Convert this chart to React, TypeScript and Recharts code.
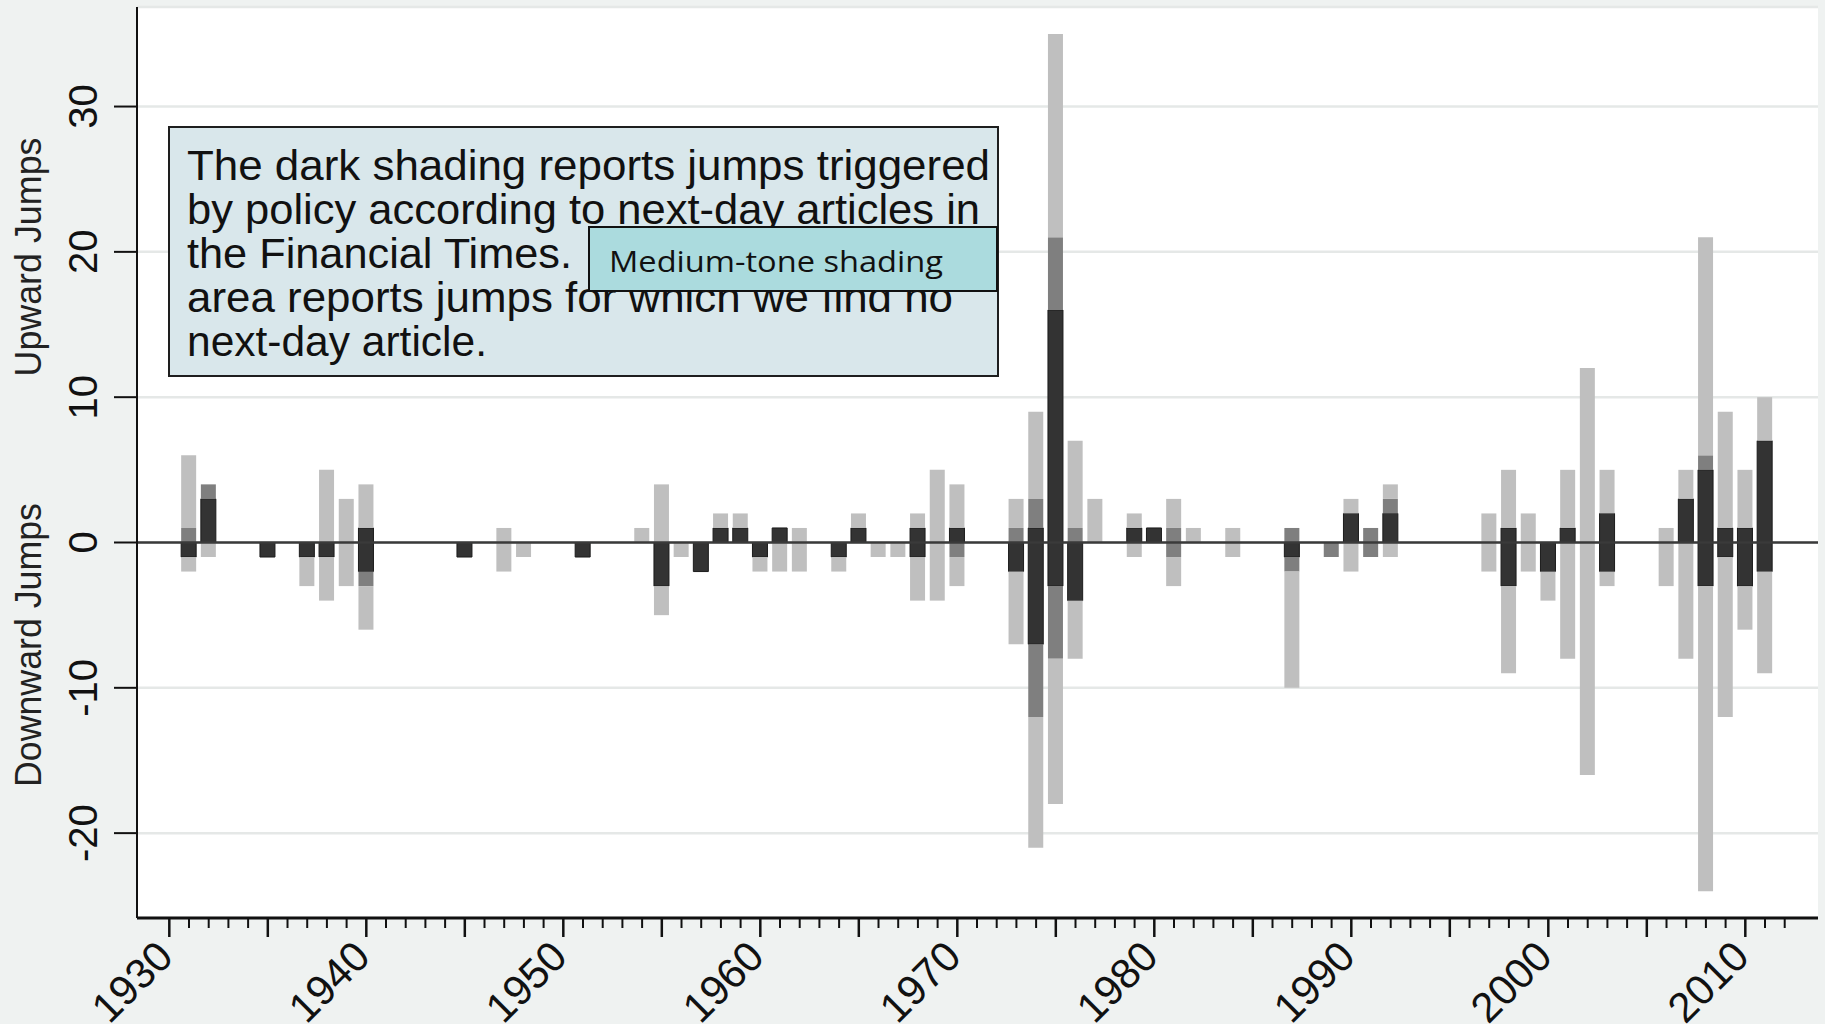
import React from 'react';
import { BarChart, Bar, XAxis, YAxis, CartesianGrid, ReferenceLine } from 'recharts';

// ---- data (segment sizes of each shade; downward jumps negative) ----
const years = [1931, 1932, 1935, 1937, 1938, 1939, 1940, 1945, 1947, 1948, 1951, 1954, 1955, 1956, 1957, 1958, 1959, 1960, 1961, 1962, 1964, 1965, 1966, 1967, 1968, 1969, 1970, 1973, 1974, 1975, 1976, 1977, 1979, 1980, 1981, 1982, 1984, 1987, 1989, 1990, 1991, 1992, 1997, 1998, 1999, 2000, 2001, 2002, 2003, 2006, 2007, 2008, 2009, 2010, 2011];
const darkUp = [0, 3, 0, 0, 0, 0, 1, 0, 0, 0, 0, 0, 0, 0, 0, 1, 1, 0, 1, 0, 0, 1, 0, 0, 1, 0, 1, 0, 1, 16, 0, 0, 1, 1, 0, 0, 0, 0, 0, 2, 0, 2, 0, 1, 0, 0, 1, 0, 2, 0, 3, 5, 1, 1, 7];
const mediumUp = [1, 1, 0, 0, 0, 0, 0, 0, 0, 0, 0, 0, 0, 0, 0, 0, 0, 0, 0, 0, 0, 0, 0, 0, 0, 0, 0, 1, 2, 5, 1, 0, 0, 0, 1, 0, 0, 1, 0, 0, 1, 1, 0, 0, 0, 0, 0, 0, 0, 0, 0, 1, 0, 0, 0];
const lightUp = [5, 0, 0, 0, 5, 3, 3, 0, 1, 0, 0, 1, 4, 0, 0, 1, 1, 0, 0, 1, 0, 1, 0, 0, 1, 5, 3, 2, 6, 14, 6, 3, 1, 0, 2, 1, 1, 0, 0, 1, 0, 1, 2, 4, 2, 0, 4, 12, 3, 1, 2, 15, 8, 4, 3];
const darkDown = [-1, 0, -1, -1, -1, 0, -2, -1, 0, 0, -1, 0, -3, 0, -2, 0, 0, -1, 0, 0, -1, 0, 0, 0, -1, 0, 0, -2, -7, -3, -4, 0, 0, 0, 0, 0, 0, -1, 0, 0, 0, 0, 0, -3, 0, -2, 0, 0, -2, 0, 0, -3, -1, -3, -2];
const mediumDown = [0, 0, 0, 0, 0, 0, -1, 0, 0, 0, 0, 0, 0, 0, 0, 0, 0, 0, 0, 0, 0, 0, 0, 0, 0, 0, -1, 0, -5, -5, 0, 0, 0, 0, -1, 0, 0, -1, -1, 0, -1, 0, 0, 0, 0, 0, 0, 0, 0, 0, 0, 0, 0, 0, 0];
const lightDown = [-1, -1, 0, -2, -3, -3, -3, 0, -2, -1, 0, 0, -2, -1, 0, 0, 0, -1, -2, -2, -1, 0, -1, -1, -3, -4, -2, -5, -9, -10, -4, 0, -1, 0, -2, 0, -1, -8, 0, -2, 0, -1, -2, -6, -2, -2, -8, -16, -1, -3, -8, -21, -11, -3, -7];

const yTicks = [-20, -10, 0, 10, 20, 30];
const decadeLabels = [1930, 1940, 1950, 1960, 1970, 1980, 1990, 2000, 2010];
const firstTickYear = 1930;
const lastTickYear = 2012;

const noteLines = [
  'The dark shading reports jumps triggered',
  'by policy according to next-day articles in',
  'the Financial Times.',
  'area reports jumps for which we find no',
  'next-day article.',
];
const noteWidths = [803, 793, 385, 766, 300];
const overlayText = 'Medium-tone shading';
const upLabel = 'Upward Jumps';
const downLabel = 'Downward Jumps';

const data = years.map((year, i) => ({
  year,
  darkUp: darkUp[i],
  darkDown: darkDown[i],
  mediumUp: mediumUp[i],
  mediumDown: mediumDown[i],
  lightUp: lightUp[i],
  lightDown: lightDown[i],
}));

const allTicks: number[] = [];
for (let y = firstTickYear; y <= lastTickYear; y++) allTicks.push(y);

const FONT = '"Liberation Sans", Arial, sans-serif';
const AXIS_X = 137;

const XTick = (props: any) => {
  const { x, y, payload } = props;
  const v = payload.value as number;
  const major = v % 5 === 0;
  const labeled = decadeLabels.includes(v);
  const tx = x + 6;
  const ty = y + 41;
  return (
    <g>
      <line x1={x} x2={x} y1={y} y2={y + (major ? 19 : 10)} stroke="#111" strokeWidth={major ? 2.5 : 2} />
      {labeled && (
        <text x={tx} y={ty} transform={`rotate(-45, ${tx}, ${ty})`} textAnchor="end" fontSize={42} fontFamily={FONT} fill="#111">
          {v}
        </text>
      )}
    </g>
  );
};

const YTick = (props: any) => {
  const { y, payload } = props;
  const bx = 97;
  return (
    <g>
      <line x1={AXIS_X - 23} x2={AXIS_X} y1={y} y2={y} stroke="#111" strokeWidth={2} />
      <text x={bx} y={y} transform={`rotate(-90, ${bx}, ${y})`} textAnchor="middle" fontSize={40} fontFamily={FONT} fill="#111">
        {payload.value}
      </text>
    </g>
  );
};

export default function App() {
  return (
    <div style={{ position: 'absolute', left: 0, top: 0, width: 1825, height: 1024, background: '#eff2f1', overflow: 'hidden' }}>
      <BarChart
        width={1825}
        height={1024}
        data={data}
        stackOffset="sign"
        margin={{ top: 7, right: 7, bottom: 0, left: 0 }}
        barSize={15}
      >
        <CartesianGrid vertical={false} fill="#ffffff" stroke="#e5e8e7" strokeWidth={2.5} />
        <XAxis
          dataKey="year"
          type="number"
          domain={[1928.36, 2013.69]}
          allowDataOverflow
          ticks={allTicks}
          interval={0}
          height={106}
          tickSize={0}
          tickMargin={0}
          tickLine={false}
          tick={<XTick />}
          axisLine={{ stroke: '#111', strokeWidth: 3 }}
        />
        <YAxis
          type="number"
          domain={[-25.84, 36.85]}
          allowDataOverflow
          ticks={yTicks}
          interval={0}
          width={AXIS_X}
          tickSize={0}
          tickMargin={0}
          tickLine={false}
          tick={<YTick />}
          axisLine={{ stroke: '#111', strokeWidth: 2 }}
        />
        <ReferenceLine y={0} stroke="#3a3a3a" strokeWidth={2.5} />
        <Bar dataKey="darkUp" stackId="a" fill="#333333" stroke="#1c1c1c" strokeWidth={1} isAnimationActive={false} />
        <Bar dataKey="darkDown" stackId="a" fill="#333333" stroke="#1c1c1c" strokeWidth={1} isAnimationActive={false} />
        <Bar dataKey="mediumUp" stackId="a" fill="#7f7f7f" isAnimationActive={false} />
        <Bar dataKey="mediumDown" stackId="a" fill="#7f7f7f" isAnimationActive={false} />
        <Bar dataKey="lightUp" stackId="a" fill="#bfbfbf" isAnimationActive={false} />
        <Bar dataKey="lightDown" stackId="a" fill="#bfbfbf" isAnimationActive={false} />
      </BarChart>
      <svg width={1825} height={1024} style={{ position: 'absolute', left: 0, top: 0, pointerEvents: 'none' }}>
        <text x={41} y={257} transform="rotate(-90, 41, 257)" textAnchor="middle" fontSize={36} fontFamily={FONT} fill="#222" textLength={239} lengthAdjust="spacingAndGlyphs">
          {upLabel}
        </text>
        <text x={41} y={645} transform="rotate(-90, 41, 645)" textAnchor="middle" fontSize={36} fontFamily={FONT} fill="#222" textLength={284} lengthAdjust="spacingAndGlyphs">
          {downLabel}
        </text>
        <rect x={169} y={127} width={829} height={249} fill="#d9e7eb" stroke="#1e1e1e" strokeWidth={2} />
        {noteLines.map((line, i) => (
          <text key={i} x={187} y={180 + i * 44} fontSize={43} fontFamily={FONT} fill="#111" textLength={noteWidths[i]} lengthAdjust="spacingAndGlyphs">
            {line}
          </text>
        ))}
        <rect x={589} y={227} width={408} height={64} fill="#abdbde" stroke="#111" strokeWidth={2} />
        <text x={609} y={272} fontSize={30} fontFamily='"Open Sans", "Noto Sans", sans-serif' fill="#111" textLength={334} lengthAdjust="spacingAndGlyphs">
          {overlayText}
        </text>
      </svg>
    </div>
  );
}
